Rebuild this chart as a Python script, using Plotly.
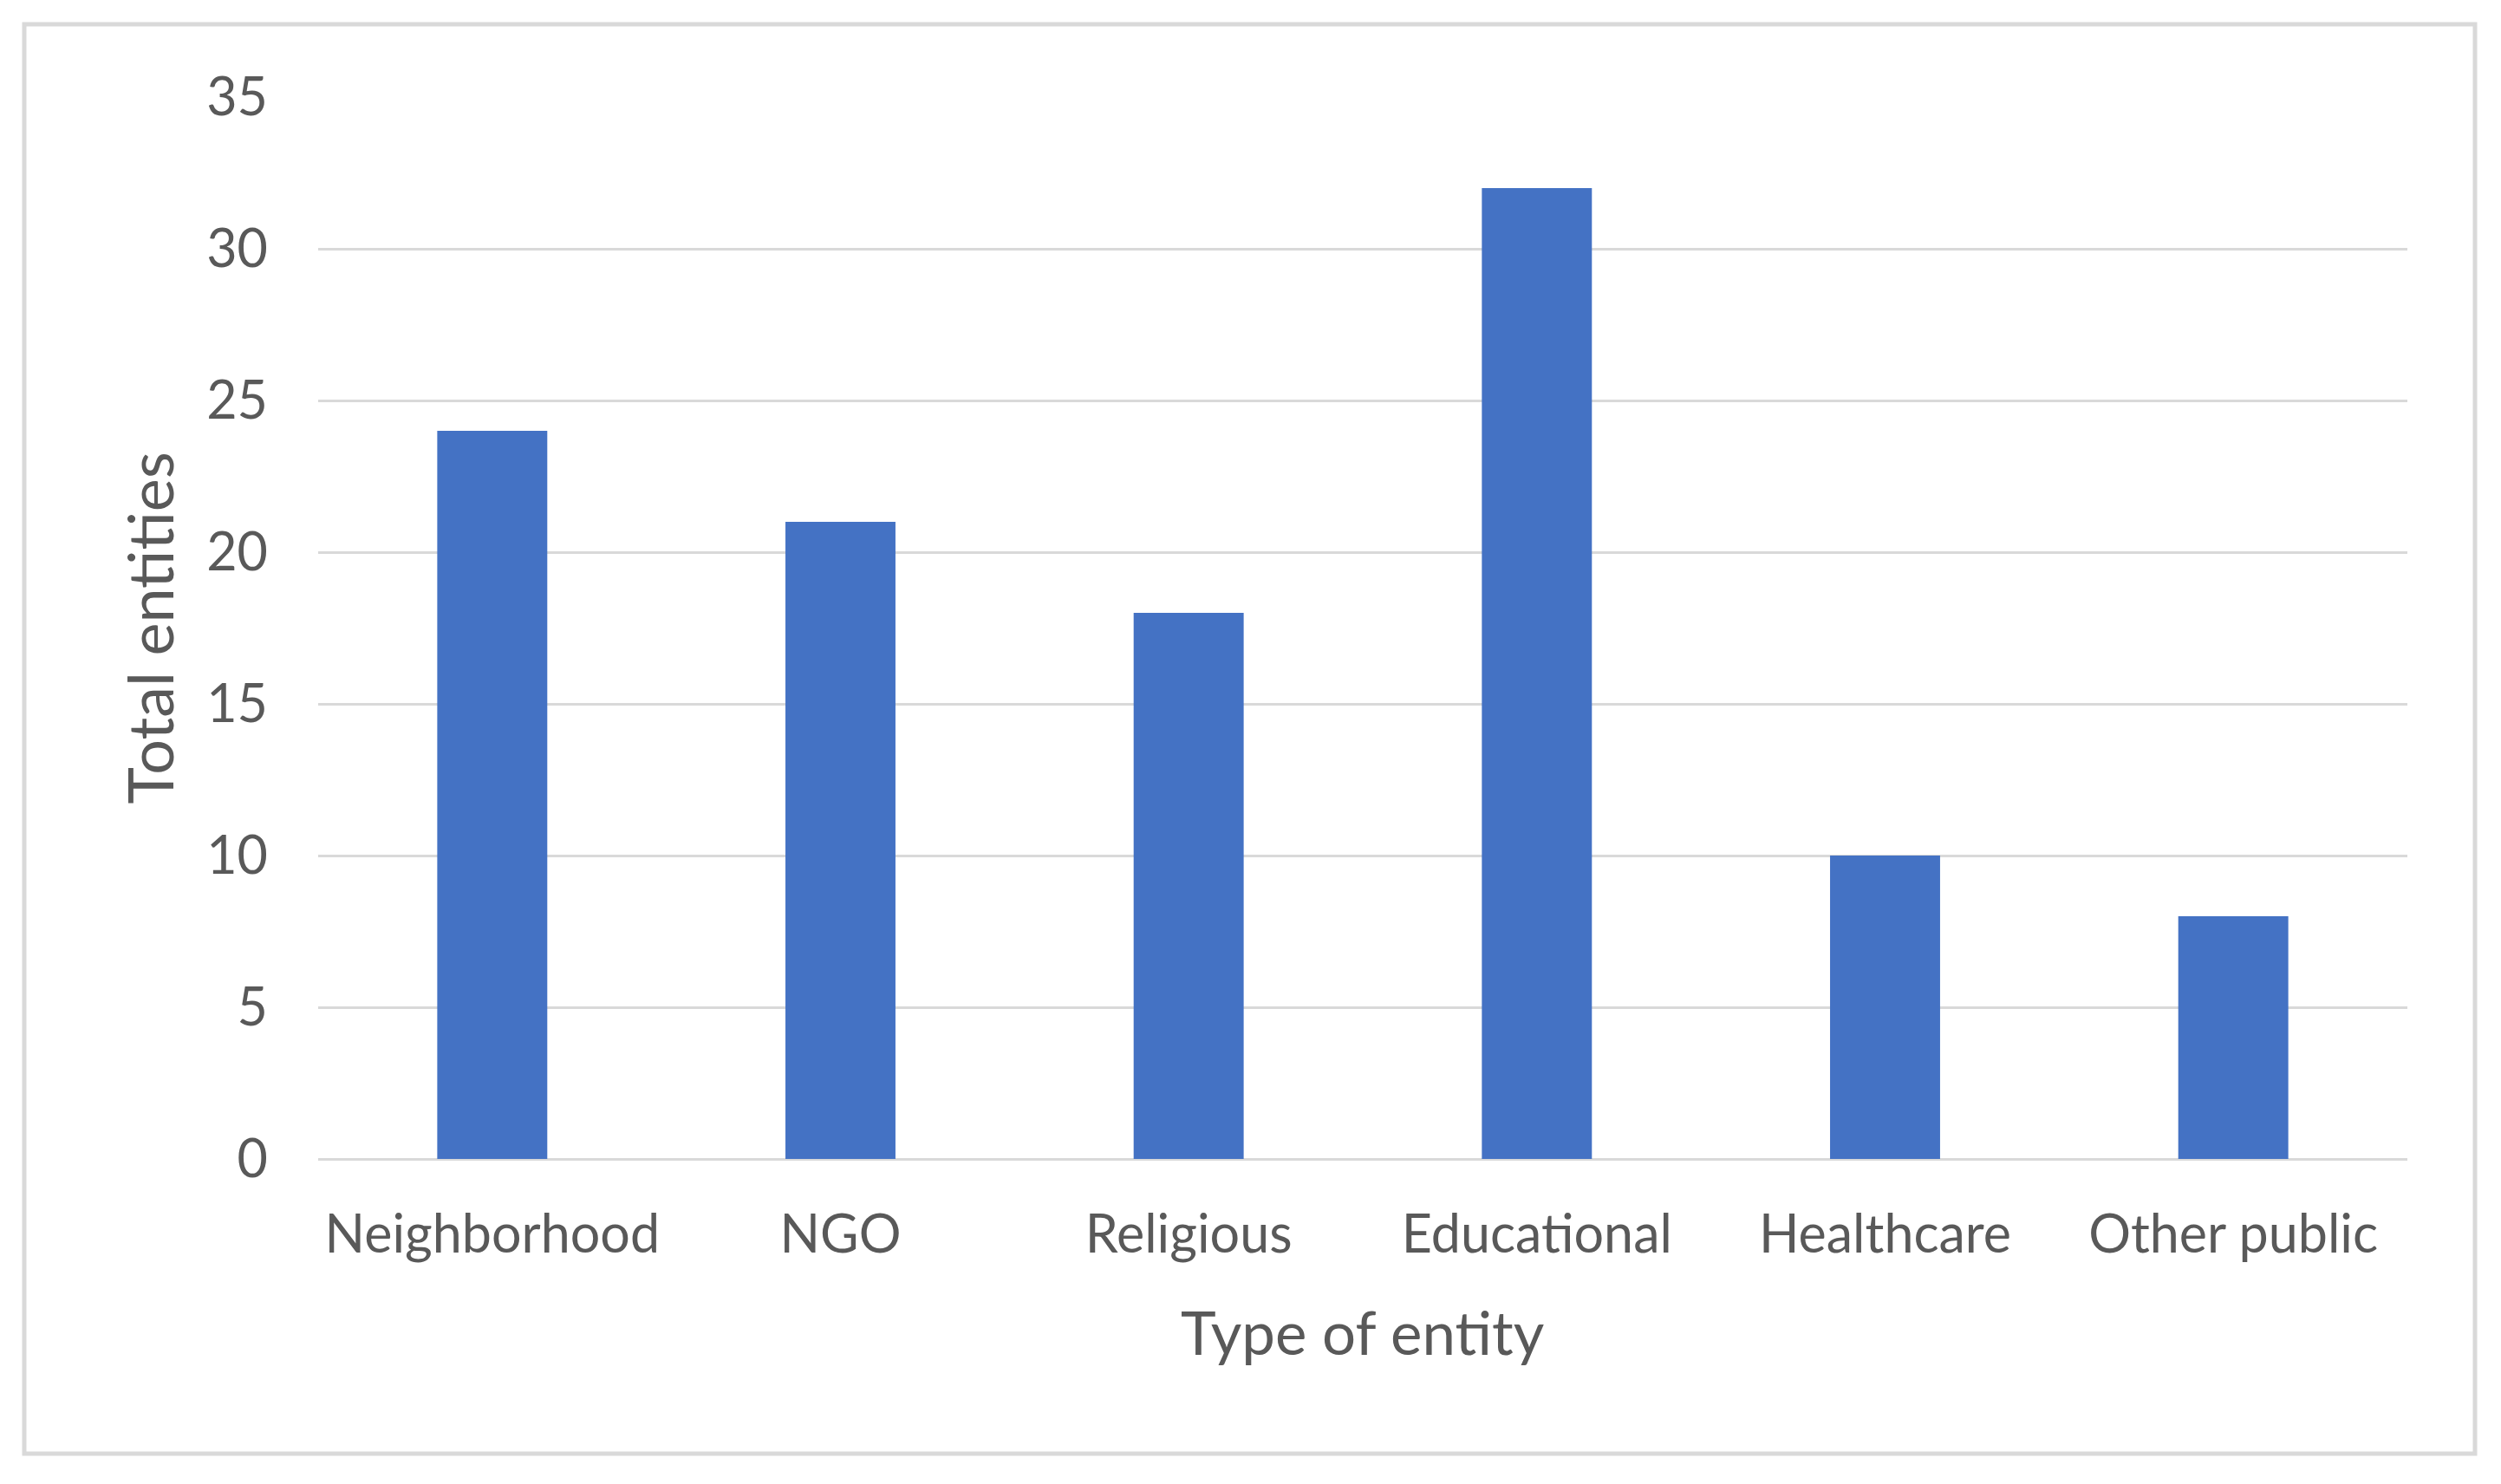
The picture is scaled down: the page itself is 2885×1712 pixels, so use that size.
import plotly.graph_objects as go

categories = ["Neighborhood", "NGO", "Religious", "Educational", "Healthcare", "Other public"]
values = [24, 21, 18, 32, 10, 8]
y_ticks = [0, 5, 10, 15, 20, 25, 30, 35]

W, H = 2885, 1712
OFF = 8  # default page body margin shifts the figure
# plot area in reference pixel coordinates
PL, PR, PT, PB = 367, 2777, 112, 1337
L, R, T, B = PL - OFF, W - (PR - OFF), PT - OFF, H - (PB - OFF)
pw, ph = W - L - R, H - T - B

def px_x(p):
    return (p - PL) / pw

def px_y(p):
    return (PB - p) / ph

FONT = "Lato"
GRAY = "#595959"

fig = go.Figure(
    go.Bar(
        x=categories,
        y=values,
        marker=dict(color="#4472C4", line=dict(width=0)),
    )
)

fig.update_layout(
    width=W,
    height=H,
    margin=dict(l=L, r=R, t=T, b=B, autoexpand=False),
    paper_bgcolor="white",
    plot_bgcolor="white",
    bargap=0.684,
    showlegend=False,
    font=dict(family=FONT, color=GRAY, size=60),
)

fig.update_xaxes(
    showgrid=False,
    showline=False,
    ticks="",
    tickfont=dict(family=FONT, size=61, color=GRAY),
    ticklabelstandoff=46,
)
fig.update_yaxes(
    range=[0, 35],
    tickvals=y_ticks,
    showgrid=True,
    gridcolor="#d9d9d9",
    gridwidth=3,
    zeroline=True,
    zerolinecolor="#d9d9d9",
    zerolinewidth=3,
    showline=False,
    ticks="",
    tickfont=dict(family=FONT, size=61, color=GRAY),
    ticklabelstandoff=57,
)

fig.add_annotation(
    text="Total entities", xref="paper", yref="paper",
    x=px_x(171), y=0.5, textangle=-90, showarrow=False,
    xanchor="center", yanchor="middle",
    font=dict(family=FONT, size=72, color=GRAY),
)
fig.add_annotation(
    text="Type of entity", xref="paper", yref="paper",
    x=0.5, y=px_y(1536), showarrow=False,
    xanchor="center", yanchor="middle",
    font=dict(family=FONT, size=69, color=GRAY),
)

fig.add_shape(
    type="rect", xref="paper", yref="paper",
    x0=px_x(28), x1=px_x(2855), y0=px_y(1677), y1=px_y(28),
    line=dict(color="#d9d9d9", width=5), fillcolor="rgba(0,0,0,0)",
    layer="below",
)

fig.write_html("out.html")
